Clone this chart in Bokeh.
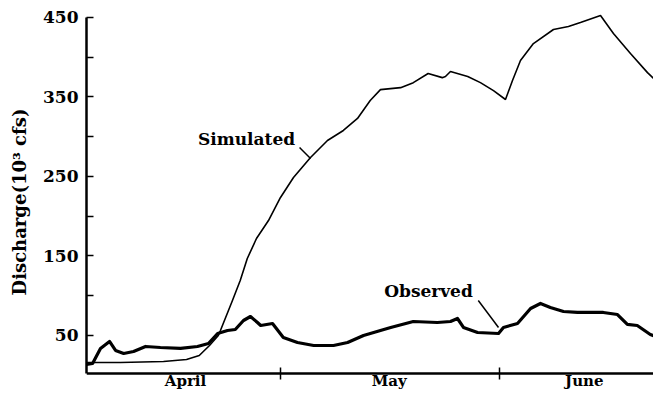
from bokeh.plotting import figure
from bokeh.models import FixedTicker
from bokeh.core.properties import value
from bokeh.embed import file_html
from bokeh.resources import INLINE

# x = day counted from April 1 (= 0); May 1 = 30, June 1 = 61
# y = discharge in 10^3 cfs

sim_day = [2.54, 7.35, 13.44, 16.7, 18.5, 19.95, 21.2, 21.5, 23.2, 24.3, 25.3, 26.6,
           28.3, 30.0, 31.84, 34.25, 36.65, 38.9, 40.9, 42.7, 44.15, 47.0, 48.8,
           50.9, 52.9, 53.35, 54.06, 56.5, 58.3, 60.15, 61.85, 62.84, 63.97, 65.8,
           68.64, 70.76, 72.46, 75.3, 77.13, 79.54, 81.95, 84.9]
sim_q = [15.8, 15.8, 17.1, 19.6, 24.6, 37.2, 49.8, 56.1, 93.9, 119.0, 146.7, 171.9,
         194.5, 223.5, 248.6, 273.8, 295.2, 307.8, 322.9, 345.5, 359.2, 361.7, 368.0,
         379.5, 374.3, 375.7, 382.0, 375.7, 368.0, 358.0, 346.8, 370.7, 395.9, 417.2,
         434.9, 438.6, 443.7, 452.5, 429.8, 404.7, 380.6, 355.6]

obs_day = [2.54, 3.4, 4.52, 5.8, 6.65, 7.8, 9.2, 10.9, 13.0, 15.85, 18.25, 19.8,
           21.1, 22.5, 23.6, 24.76, 25.75, 26.74, 27.2, 28.87, 30.4, 32.4, 34.7,
           37.5, 39.5, 41.75, 44.15, 45.6, 48.8, 52.2, 54.06, 55.05, 55.9, 57.9,
           60.86, 61.56, 63.55, 65.4, 66.8, 68.2, 70.06, 72.04, 75.7, 77.7, 79.1,
           80.5, 82.35, 84.9]
obs_q = [13.3, 14.6, 33.5, 42.3, 31.0, 27.2, 29.7, 36.0, 34.7, 33.5, 36.0, 39.7,
         52.3, 56.1, 57.4, 68.7, 73.7, 66.2, 62.4, 64.9, 47.3, 41.0, 37.2,
         37.2, 41.0, 49.8, 56.1, 59.9, 67.4, 66.2, 67.4, 71.2, 59.9, 53.6,
         52.3, 59.9, 64.9, 83.8, 90.1, 85.0, 80.0, 78.8, 78.8, 76.2, 63.7,
         62.4, 51.1, 42.3]

month_names = ["April", "May", "June"]
month_label_day = [16.55, 45.4, 73.0]
month_start_day = [30, 61]

y_labeled = [50, 150, 250, 350, 450]
y_unlabeled = [100, 200, 300, 400]

series_names = ["Simulated", "Observed"]
label_day = [25.2, 50.95]
label_q = [297.7, 105.2]
leader_day0 = [32.7, 58.0]
leader_q0 = [286.4, 93.9]
leader_day1 = [34.25, 60.86]
leader_q1 = [272.5, 59.9]

FONT = "DejaVu Serif"
Y_AXIS = 2          # value where the time axis is drawn
Y_LOW, Y_HIGH = -19.4, 455   # frame reaches below the axis to hold month names

p = figure(width=653, height=390, output_backend="svg", toolbar_location=None,
           x_range=(2.54, 82.8), y_range=(Y_LOW, Y_HIGH),
           min_border_left=86, min_border_right=0, min_border_top=13, min_border_bottom=0)
p.outline_line_color = None
p.xgrid.visible = False
p.ygrid.visible = False
p.background_fill_color = "white"
p.border_fill_color = "white"

p.line(sim_day, sim_q, line_color="black", line_width=1.6)
p.line(obs_day, obs_q, line_color="black", line_width=3.2, line_join="round")

p.text(x=label_day, y=label_q, text=series_names, text_font=value(FONT),
       text_font_style="bold", text_font_size="17px", text_align="center",
       text_baseline="middle", text_color="black")
p.segment(x0=leader_day0, y0=leader_q0, x1=leader_day1, y1=leader_q1,
          line_color="black", line_width=1.5)

# x axis: month boundaries as crossing ticks, month names between them
xa = p.xaxis[0]
xa.fixed_location = Y_AXIS
xa.ticker = FixedTicker(ticks=month_label_day, minor_ticks=month_start_day)
xa.major_label_overrides = {d: n for d, n in zip(month_label_day, month_names)}
xa.major_tick_in = 0
xa.major_tick_out = 0
xa.minor_tick_in = 6
xa.minor_tick_out = 6
xa.minor_tick_line_width = 1.5
xa.axis_line_width = 2.5
xa.major_label_standoff = -7
xa.major_label_text_font = FONT
xa.major_label_text_font_style = "bold"
xa.major_label_text_font_size = "15px"
xa.major_label_text_color = "black"

# y axis
ya = p.yaxis[0]
ya.ticker = FixedTicker(ticks=y_labeled, minor_ticks=y_unlabeled)
ya.bounds = (Y_AXIS, 450)
ya.major_tick_in = 7
ya.major_tick_out = 0
ya.minor_tick_in = 7
ya.minor_tick_out = 0
ya.major_tick_line_width = 1.5
ya.minor_tick_line_width = 1.5
ya.axis_line_width = 2.5
ya.major_label_standoff = 8
ya.major_label_text_font = FONT
ya.major_label_text_font_style = "bold"
ya.major_label_text_font_size = "17px"
ya.major_label_text_color = "black"
ya.axis_label = "Discharge(10\u00b3 cfs)"
ya.axis_label_text_font = FONT
ya.axis_label_text_font_style = "bold"
ya.axis_label_text_font_size = "18px"
ya.axis_label_text_color = "black"
ya.axis_label_standoff = 10

open("out.html", "w").write(file_html(p, INLINE))
